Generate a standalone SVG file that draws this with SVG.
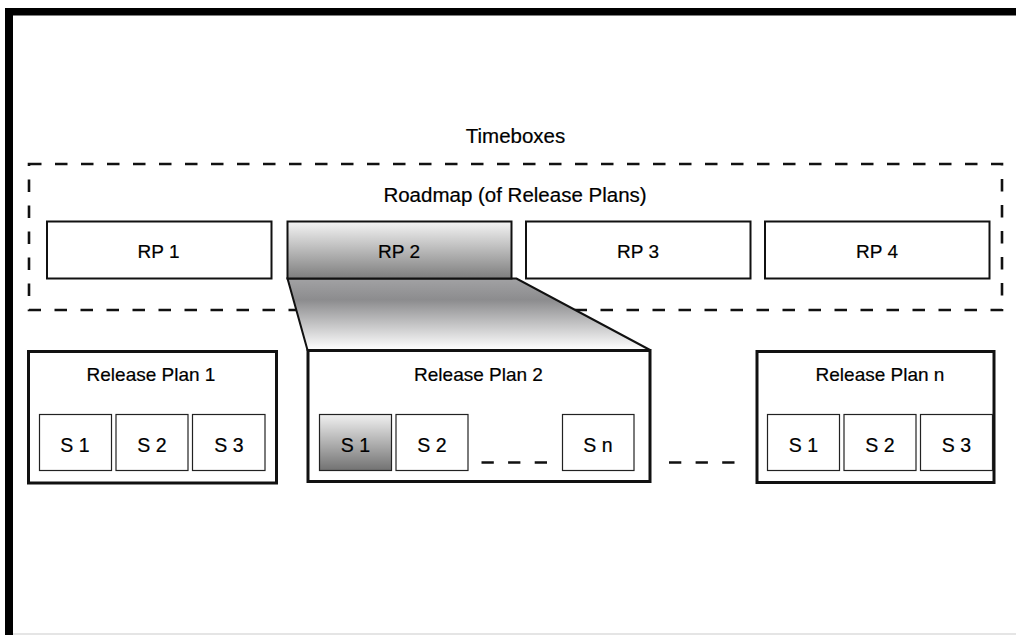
<svg xmlns="http://www.w3.org/2000/svg" width="1016" height="635" viewBox="0 0 1016 635">
  <style>
    text { font-family: "Liberation Sans", Arial, Helvetica, sans-serif; fill: #000; text-anchor: middle; stroke: #000; stroke-width: 0.2; }
    .lbl { font-size: 19px; }
    .s { font-size: 19.5px; }
    .big { font-size: 20.5px; }
    .rp { fill: #fff; stroke: #111; stroke-width: 2; }
    .plan { fill: #fff; stroke: #111; stroke-width: 3; }
    .sp { fill: #fff; stroke: #222; stroke-width: 1.2; }
    .dash { fill: none; stroke: #111; stroke-width: 2.6; stroke-dasharray: 12.5 13.5; }
  </style>
  <defs>
    <linearGradient id="gRP" x1="0" y1="0" x2="0" y2="1">
      <stop offset="0" stop-color="#f4f4f4"/>
      <stop offset="1" stop-color="#7e7e7e"/>
    </linearGradient>
    <linearGradient id="gZoom" x1="0" y1="0" x2="0" y2="1">
      <stop offset="0" stop-color="#a2a2a4"/>
      <stop offset="0.3" stop-color="#8c8c8e"/>
      <stop offset="1" stop-color="#ffffff"/>
    </linearGradient>
    <linearGradient id="gS" x1="0" y1="0" x2="0" y2="1">
      <stop offset="0" stop-color="#f0f0f0"/>
      <stop offset="1" stop-color="#727272"/>
    </linearGradient>
  </defs>

  <rect width="1016" height="635" fill="#fff"/>

  <!-- page frame -->
  <g id="frame">
    <line x1="5" y1="11.8" x2="1016" y2="11.8" stroke="#000" stroke-width="7.6"/>
    <line x1="9" y1="8" x2="9" y2="635" stroke="#000" stroke-width="8"/>
    <line x1="13" y1="634" x2="1016" y2="634" stroke="#ddd" stroke-width="1.5"/>
  </g>

  <!-- timebox boundary -->
  <g id="timeboxes">
    <rect class="dash" x="29" y="164" width="973" height="146"/>
    <text class="big" x="515.5" y="142.5">Timeboxes</text>
    <text class="big" x="515" y="201.5">Roadmap (of Release Plans)</text>
  </g>

  <!-- expansion of RP 2 into its release plan -->
  <g id="zoom">
    <polygon points="287.5,278.5 516.5,278.5 650,350 307.5,350" fill="url(#gZoom)" stroke="#111" stroke-width="2"/>
  </g>

  <g id="rp1">
    <rect class="rp" x="47" y="221.5" width="224.5" height="57"/>
    <text class="lbl" x="158.5" y="258.3">RP 1</text>
  </g>
  <g id="rp2">
    <rect class="rp" x="287.5" y="221.5" width="224" height="57" style="fill:url(#gRP)"/>
    <text class="lbl" x="399" y="258.3">RP 2</text>
  </g>
  <g id="rp3">
    <rect class="rp" x="526" y="221.5" width="224.5" height="57"/>
    <text class="lbl" x="638" y="258.3">RP 3</text>
  </g>
  <g id="rp4">
    <rect class="rp" x="765" y="221.5" width="224.5" height="57"/>
    <text class="lbl" x="877" y="258.3">RP 4</text>
  </g>

  <!-- release plan 1 -->
  <g id="plan1">
    <rect class="plan" x="28.5" y="351.5" width="248" height="131.5"/>
    <text class="lbl" x="151" y="381">Release Plan 1</text>
    <rect class="sp" x="39.5" y="414.5" width="72" height="56"/>
    <text class="s" x="75" y="451.5">S 1</text>
    <rect class="sp" x="116" y="414.5" width="72" height="56"/>
    <text class="s" x="152" y="451.5">S 2</text>
    <rect class="sp" x="192.5" y="414.5" width="72.5" height="56"/>
    <text class="s" x="229" y="451.5">S 3</text>
  </g>

  <!-- release plan 2 -->
  <g id="plan2">
    <rect class="plan" x="308" y="350.5" width="342" height="131"/>
    <text class="lbl" x="478.5" y="381">Release Plan 2</text>
    <rect class="sp" x="319.5" y="414.5" width="72" height="56" style="fill:url(#gS)"/>
    <text class="s" x="355.5" y="451.5">S 1</text>
    <rect class="sp" x="396" y="414.5" width="72" height="56"/>
    <text class="s" x="432" y="451.5">S 2</text>
    <rect class="sp" x="562.5" y="414.5" width="71.5" height="56"/>
    <text class="s" x="598" y="451.5">S n</text>
  </g>

  <!-- release plan n -->
  <g id="planN">
    <rect class="plan" x="757" y="351.5" width="237" height="131"/>
    <text class="lbl" x="880" y="381">Release Plan n</text>
    <rect class="sp" x="767.5" y="414.5" width="72" height="56"/>
    <text class="s" x="803.5" y="451.5">S 1</text>
    <rect class="sp" x="844" y="414.5" width="72" height="56"/>
    <text class="s" x="880" y="451.5">S 2</text>
    <rect class="sp" x="920.5" y="414.5" width="72" height="56"/>
    <text class="s" x="956.5" y="451.5">S 3</text>
  </g>

  <!-- ellipsis connectors between sprints and plans -->
  <g id="connectors">
    <line class="dash" x1="481.5" y1="462.5" x2="548" y2="462.5" style="stroke-dasharray:12.3 14.3"/>
    <line class="dash" x1="669" y1="462.5" x2="735.5" y2="462.5" style="stroke-dasharray:12.3 14.3"/>
  </g>
</svg>
